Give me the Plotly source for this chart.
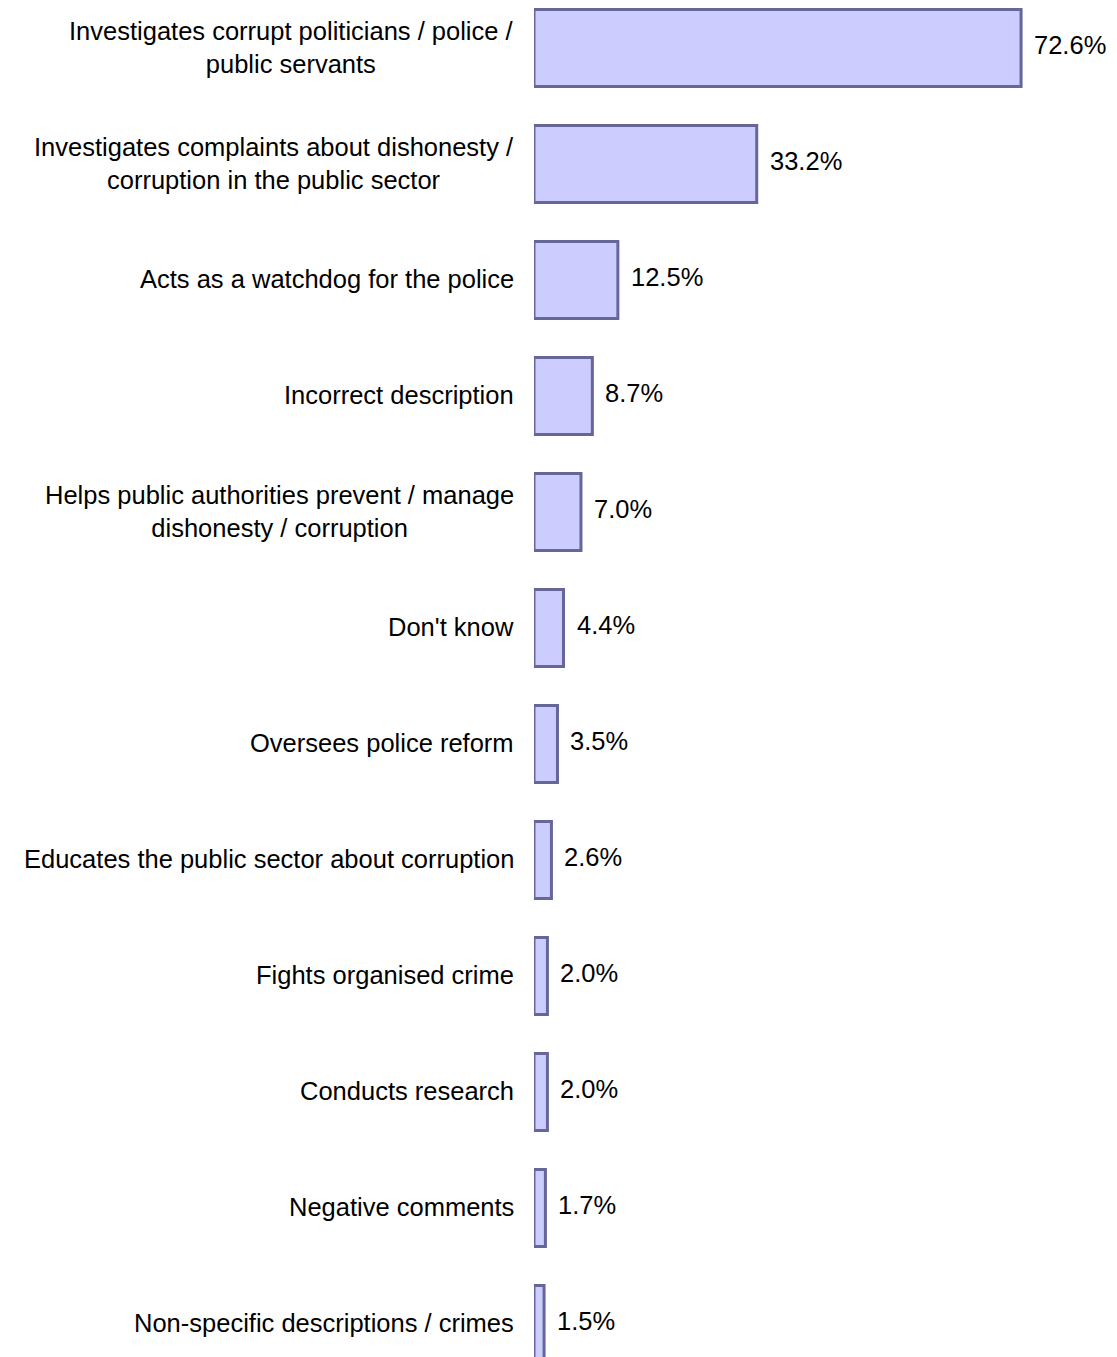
import plotly.graph_objects as go

categories = [
    "Investigates corrupt politicians / police /<br>public servants",
    "Investigates complaints about dishonesty /<br>corruption in the public sector",
    "Acts as a watchdog for the police",
    "Incorrect description",
    "Helps public authorities prevent / manage<br>dishonesty / corruption",
    "Don't know",
    "Oversees police reform",
    "Educates the public sector about corruption",
    "Fights organised crime",
    "Conducts research",
    "Negative comments",
    "Non-specific descriptions / crimes",
]
values = [72.6, 33.2, 12.5, 8.7, 7.0, 4.4, 3.5, 2.6, 2.0, 2.0, 1.7, 1.5]
value_labels = ["72.6%", "33.2%", "12.5%", "8.7%", "7.0%", "4.4%", "3.5%",
                "2.6%", "2.0%", "2.0%", "1.7%", "1.5%"]

FONT = "Arial, Liberation Sans, sans-serif"
FS = 25.5

fig = go.Figure()
fig.add_trace(go.Bar(
    x=values,
    y=categories,
    orientation="h",
    width=0.665,
    marker=dict(color="#CCCCFF", line=dict(color="#666699", width=3)),
    cliponaxis=False,
    hoverinfo="skip",
))

annotations = []
for cat, v, lab in zip(categories, values, value_labels):
    annotations.append(dict(
        x=v, y=cat, xref="x", yref="y", text=lab, showarrow=False,
        xanchor="left", yanchor="middle", xshift=11, yshift=3,
        font=dict(family=FONT, size=FS, color="black"),
    ))
    annotations.append(dict(
        x=0, y=cat, xref="paper", yref="y", text=cat, showarrow=False,
        xanchor="right", yanchor="middle", align="center", xshift=-18,
        yshift=1,
        font=dict(family=FONT, size=FS, color="black"),
    ))

fig.update_layout(
    width=1109, height=1349,
    margin=dict(l=526, r=0, t=0, b=0),
    paper_bgcolor="white", plot_bgcolor="white",
    showlegend=False,
    annotations=annotations,
    xaxis=dict(range=[0, 86.9], showgrid=False, zeroline=False,
               showticklabels=False, showline=False),
    yaxis=dict(range=[11.284, -0.345], showgrid=False, zeroline=False,
               showticklabels=False, showline=False, type="category"),
    font=dict(family=FONT, size=FS),
)

fig.write_html("out.html")
